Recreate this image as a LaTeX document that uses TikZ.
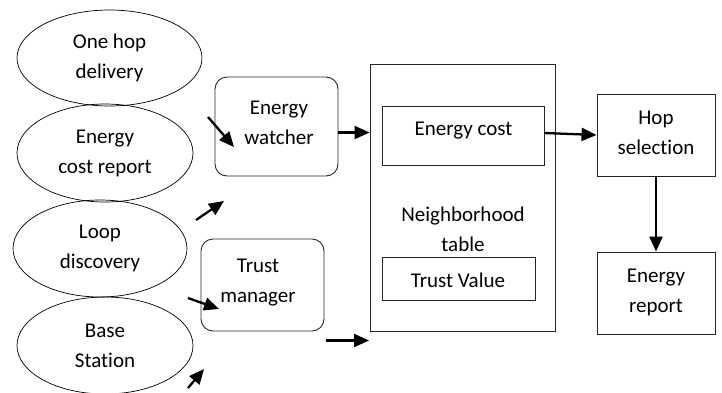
\documentclass[tikz,border=0pt]{standalone}
\usepackage{fontspec}
\setmainfont{Carlito}[Ligatures={NoCommon}]
\usetikzlibrary{arrows.meta,shapes.geometric}
\begin{document}
\begin{tikzpicture}[x=1pt,y=-1pt,
  every node/.style={font=\fontsize{21}{30}\selectfont, align=center, inner sep=0pt},
  oval/.style={ellipse, draw=black, line width=0.7pt},
  rbox/.style={draw=black!85, line width=0.9pt, rounded corners=12pt},
  sbox/.style={draw=black!85, line width=0.9pt},
  flow/.style={line width=2.3pt, -{Triangle[length=15pt,width=13pt]}}
]
\useasboundingbox (0,0) rectangle (722,392);

% input modules
\node[oval, minimum width=185pt, minimum height=96pt] (hop) at (109.5,58) {One hop\\delivery};
\node[oval, minimum width=176pt, minimum height=98pt] (ecr) at (105,153) {Energy\\cost report};
\node[oval, minimum width=174pt, minimum height=97pt] (loop) at (100,248.5) {Loop\\discovery};
\node[oval, minimum width=176pt, minimum height=97pt] (bs) at (105,345.5) {Base\\Station};

% monitors
\node[rbox, minimum width=123pt, minimum height=99pt] (ew) at (276.5,126.5) {};
\node (ewt) at (279,123) {Energy\\watcher};
\node[rbox, minimum width=123pt, minimum height=92pt] (tm) at (262.5,285) {};
\node (tmt) at (258,283) {Trust\\manager};

% neighbourhood table
\node[sbox, minimum width=185pt, minimum height=267pt] (nbr) at (462.5,197.5) {};
\node[sbox, minimum width=162pt, minimum height=59pt] (ec) at (463,135.5) {};
\node (ect) at (463.5,131) {Energy cost};
\node (nbrt) at (463,229) {Neighborhood\\table};
\node[sbox, minimum width=153pt, minimum height=43pt] (tv) at (458.5,278.5) {};
\node (tvt) at (458,280) {Trust Value};

% output stages
\node[sbox, minimum width=118pt, minimum height=82pt] (hs) at (656,135) {};
\node (hst) at (656,133) {Hop\\selection};
\node[sbox, minimum width=118pt, minimum height=82pt] (er) at (656,293) {};
\node (ert) at (656,292.5) {Energy\\report};

% loose arrow ends
\coordinate (a1s) at (208,117);   \coordinate (a1e) at (234,147);
\coordinate (a2s) at (196,220);   \coordinate (a2e) at (224,201);
\coordinate (a3s) at (188,298);   \coordinate (a3e) at (219,309);
\coordinate (a4s) at (188,388);   \coordinate (a4e) at (204,369);
\coordinate (a5s) at (326,340.5); \coordinate (a5e) at (369,340.5);

% connectors
\draw[flow] (ew.east |- 0,132.5) -- (nbr.west |- 0,132.5);
\draw[flow] (ec.east |- 0,133) -- (hs.west |- 0,135);
\draw[flow] (hs.south) -- (er.north);
\draw[flow] (a1s) -- (a1e);
\draw[flow] (a2s) -- (a2e);
\draw[flow] (a3s) -- (a3e);
\draw[flow] (a4s) -- (a4e);
\draw[flow] (a5s) -- (a5e);
\end{tikzpicture}
\end{document}
